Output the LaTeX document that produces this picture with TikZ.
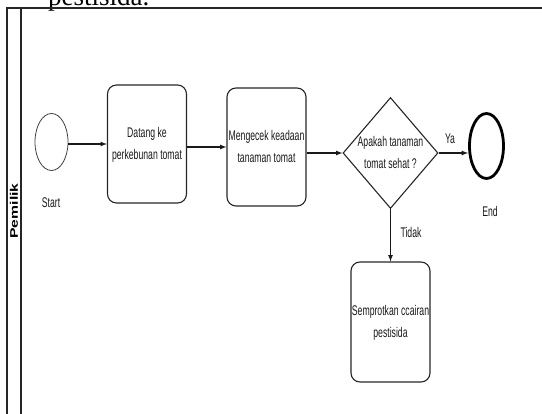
\documentclass[tikz,border=0pt]{standalone}
\usepackage{fontspec}
\setmainfont{Liberation Sans}
\newfontfamily\docserif{Liberation Serif}
\usepackage{graphicx}
\usetikzlibrary{shapes.geometric}

\newcommand{\slim}[1]{\scalebox{0.62}[1]{\begin{tabular}{@{}c@{}}#1\end{tabular}}}

\begin{document}
\begin{tikzpicture}[
	x=1pt, y=-1pt,
	task/.style={ draw=black!85, line width=1.1pt, rounded corners=9pt, minimum width=79pt, minimum height=118pt, inner sep=0pt, text=black!90, font=\fontsize{14}{22}\selectfont },
	gate/.style={ diamond, draw=black!85, line width=1.1pt, minimum width=95pt, minimum height=111pt, inner sep=0pt, text=black!90, font=\fontsize{14}{22}\selectfont },
	startev/.style={ ellipse, draw=black!75, line width=0.8pt, minimum width=33pt, minimum height=57pt, inner sep=0pt },
	endev/.style={ ellipse, draw=black, line width=2.8pt, minimum width=34pt, minimum height=65pt, inner sep=0pt },
	lbl/.style={ text=black!90, font=\fontsize{14}{16}\selectfont, inner sep=0pt },
	flow/.style={ -latex, line width=1.2pt, black!90 },
	lane/.style={ line width=1.2pt, black!85 }
]
\useasboundingbox (0,0) rectangle (542,414);
\clip (0,0) rectangle (542,414);

% cut-off line of the page above
\node at (48,5.5) (prevline) [anchor=base west, inner sep=0pt, font=\docserif\fontsize{27}{30}\selectfont] {pestisida.};

% pool and lane
\draw[lane] (7,414) -- (7,8) -- (542,8);
\draw[lane] (21,8) -- (21,414);
\node at (14,211) (pemilik) [rotate=90, inner sep=0pt, font=\fontsize{11}{13}\selectfont\bfseries] {\scalebox{1.43}[1]{Pemilik}};

\node at (51.5,142) (start) [startev] {};
\node at (147,144) (datang) [task] {\slim{Datang ke\\perkebunan tomat}};
\node at (266.5,147) (cek) [task] {\slim{Mengecek keadaan\\tanaman tomat}};
\node at (390.5,153) (sehat) [gate] {\smash{\raisebox{-4pt}{\slim{Apakah tanaman\\tomat sehat ?}}}};
\node at (486.5,146) (end) [endev] {};
\node at (390.5,322) (semprot) [task, minimum height=120pt] {\slim{Semprotkan ccairan\\pestisida}};

\node at (51,204) (startlbl) [lbl] {\slim{Start}};
\node at (490,213) (endlbl) [lbl] {\slim{End}};
\node at (450,140) (ya) [lbl] {\slim{Ya}};
\node at (411,234) (tidak) [lbl] {\slim{Tidak}};

\draw[flow] (start.east |- datang.west) -- (datang.west);
\draw[flow] (datang.east |- cek.west) -- (cek.west);
\draw[flow] (cek.east |- sehat.west) -- (sehat.west);
\draw[flow] (sehat.east) -- (sehat.east -| end.west);
\draw[flow] (sehat.south) -- (semprot.north);

\end{tikzpicture}
\end{document}
